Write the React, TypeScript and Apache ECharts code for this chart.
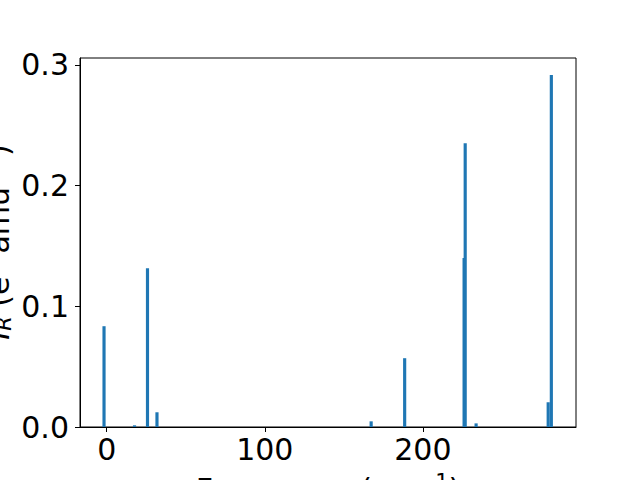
import React, { useEffect, useRef } from "react";
import * as echarts from "echarts";

const freqs = [-1.7, 17.6, 25.8, 31.8, 167.3, 188.5, 226.1, 226.8, 233.7, 279.3, 281.3];
const intensities = [0.0835, 0.0014, 0.1316, 0.0122, 0.0047, 0.057, 0.14, 0.235, 0.003, 0.0205, 0.2916];
const xTicks = [0, 100, 200];
const yTicks = [0, 0.1, 0.2, 0.3];
const barWidth = 2;

export default function App() {
  const ref = useRef<HTMLDivElement>(null);
  useEffect(() => {
    const chart = echarts.init(ref.current!, null, { renderer: "svg" });
    const font = "DejaVu Sans";
    chart.setOption({
      animation: false,
      backgroundColor: "#fff",
      grid: { left: 80, right: 64, top: 58, bottom: 53, show: true, borderColor: "#000", borderWidth: 1, backgroundColor: "transparent" },
      xAxis: {
        type: "value",
        min: -16.9,
        max: 296.9,
        splitLine: { show: false },
        axisLine: { show: true, onZero: false, lineStyle: { color: "#000", width: 1 } },
        axisTick: { show: true, length: 5, lineStyle: { color: "#000" }, customValues: xTicks },
        axisLabel: { customValues: xTicks, fontFamily: font, fontSize: 30, color: "#000", margin: 7 },
      },
      yAxis: {
        type: "value",
        min: 0,
        max: 0.3057,
        splitLine: { show: false },
        axisLine: { show: true, onZero: false, lineStyle: { color: "#000", width: 1 } },
        axisTick: { show: true, length: 5, lineStyle: { color: "#000" }, customValues: yTicks },
        axisLabel: {
          customValues: yTicks,
          fontFamily: font,
          fontSize: 30,
          color: "#000",
          margin: 11,
          formatter: (v: number) => v.toFixed(1),
        },
      },
      series: [
        {
          type: "custom",
          data: freqs.map((f, i) => [f, intensities[i]]),
          renderItem: (params: any, api: any) => {
            const x = api.value(0);
            const y = api.value(1);
            const p0 = api.coord([x - barWidth / 2, y]);
            const p1 = api.coord([x + barWidth / 2, 0]);
            return {
              type: "rect",
              shape: { x: p0[0], y: p0[1], width: p1[0] - p0[0], height: p1[1] - p0[1] },
              style: { fill: "#1f77b4" },
            };
          },
          clip: true,
        },
      ],
      graphic: [
        {
          type: "text",
          x: -2,
          y: 242,
          rotation: Math.PI / 2,
          style: {
            text: "{i|I}{sub|R} (e{sup|2} amu{sup|−1})",
            fontFamily: font,
            fontSize: 30,
            fill: "#000",
            align: "center",
            verticalAlign: "middle",
            rich: {
              i: { fontFamily: font, fontSize: 30, fontStyle: "italic", fill: "#000" },
              sub: { fontFamily: font, fontSize: 21, fontStyle: "italic", fill: "#000", padding: [12, 0, 0, 0] },
              sup: { fontFamily: font, fontSize: 21, fill: "#000", padding: [0, 0, 14, 0] },
            },
          },
        },
        {
          type: "text",
          x: 328,
          y: 489,
          style: {
            text: "Frequency (cm{sup|−1})",
            fontFamily: font,
            fontSize: 30,
            fill: "#000",
            align: "center",
            verticalAlign: "middle",
            rich: {
              sup: { fontFamily: font, fontSize: 21, fill: "#000", padding: [0, 0, 14, 0] },
            },
          },
        },
      ],
    });
    return () => chart.dispose();
  }, []);
  return <div ref={ref} style={{ width: 640, height: 480, position: "absolute", left: 0, top: 0 }} />;
}
